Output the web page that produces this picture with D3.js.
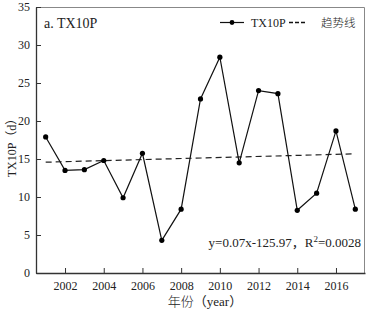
<!DOCTYPE html>
<html>

<head>
    <meta charset="utf-8" />
    <title>TX10P</title>
    <script type="text/javascript" src="https://cdn.jsdelivr.net/npm/d3@7"></script>
    <style>
        body { margin: 0; background: #fff; }
        svg text { font-family: "Liberation Serif", "DejaVu Serif", "Times New Roman", "Noto Sans CJK SC", serif; fill: #222; }
        svg text.cjk { font-family: "Noto Sans CJK SC", sans-serif; font-weight: 300; }
    </style>
</head>

<body>
    <script type="text/javascript">
        const years = [2001, 2002, 2003, 2004, 2005, 2006, 2007, 2008, 2009,
            2010, 2011, 2012, 2013, 2014, 2015, 2016, 2017];
        const tx10p = [17.9, 13.5, 13.6, 14.8, 9.9, 15.75, 4.3, 8.4, 22.9,
            28.4, 14.5, 24.0, 23.6, 8.25, 10.5, 18.7, 8.4];
        const trendYears = [2001, 2017];
        const trendValues = [14.58, 15.68];
        const xTicks = [2002, 2004, 2006, 2008, 2010, 2012, 2014, 2016];
        const yTicks = [0, 5, 10, 15, 20, 25, 30, 35];

        const width = 368,
            height = 311,
            margin = { top: 7, left: 36, right: 3, bottom: 38 };

        const svg = d3.select("body").append("svg")
            .attr("width", width)
            .attr("height", height);

        const x = d3.scaleLinear()
            .domain([2000.5, 2017.5])
            .range([margin.left, width - margin.right]);

        const y = d3.scaleLinear()
            .domain([0, 35])
            .range([height - margin.bottom, margin.top]);

        // frame: top and right in grey
        svg.append("path")
            .attr("d", `M${x.range()[0]},${y(35) + 0.5}H${x.range()[1] - 0.5}V${y(0)}`)
            .attr("fill", "none")
            .attr("stroke", "#888")
            .attr("stroke-width", 1);

        // axes with inward ticks
        const xAxis = d3.axisBottom(x)
            .tickValues(xTicks)
            .tickFormat(d3.format("d"))
            .tickSizeInner(-5)
            .tickSizeOuter(0)
            .tickPadding(8);

        const yAxis = d3.axisLeft(y)
            .tickValues(yTicks)
            .tickSizeInner(-5)
            .tickSizeOuter(0)
            .tickPadding(6);

        const gx = svg.append("g")
            .attr("transform", `translate(0, ${y(0)})`)
            .call(xAxis);
        const gy = svg.append("g")
            .attr("transform", `translate(${x.range()[0]}, 0)`)
            .call(yAxis);

        [gx, gy].forEach(g => {
            g.attr("font-family", null).attr("font-size", null);
            g.select(".domain").attr("stroke", "#333").attr("stroke-width", 1.3);
            g.selectAll(".tick line").attr("stroke", "#333");
            g.selectAll(".tick text")
                .style("font-size", "12px");
        });

        // trend line
        svg.append("line")
            .attr("x1", x(trendYears[0]))
            .attr("y1", y(trendValues[0]))
            .attr("x2", x(trendYears[1]))
            .attr("y2", y(trendValues[1]))
            .attr("stroke", "#222")
            .attr("stroke-width", 1.2)
            .attr("stroke-dasharray", "6,4");

        // data line
        const line = d3.line()
            .x((d, i) => x(years[i]))
            .y(d => y(d));

        svg.append("path")
            .datum(tx10p)
            .attr("d", line)
            .attr("fill", "none")
            .attr("stroke", "#111")
            .attr("stroke-width", 1.2);

        svg.selectAll("circle.pt")
            .data(tx10p)
            .enter()
            .append("circle")
            .attr("class", "pt")
            .attr("cx", (d, i) => x(years[i]))
            .attr("cy", d => y(d))
            .attr("r", 2.6)
            .attr("fill", "#000");

        // title
        svg.append("text")
            .attr("x", 44)
            .attr("y", 28)
            .style("font-size", "14px")
            .text("a. TX10P");

        // legend
        const lg = svg.append("g");
        lg.append("line")
            .attr("x1", 220).attr("x2", 244)
            .attr("y1", 22.5).attr("y2", 22.5)
            .attr("stroke", "#111").attr("stroke-width", 1.2);
        lg.append("circle")
            .attr("cx", 232).attr("cy", 22.5).attr("r", 2.4).attr("fill", "#000");
        lg.append("text")
            .attr("x", 251).attr("y", 27)
            .style("font-size", "12px")
            .text("TX10P");
        lg.append("line")
            .attr("x1", 289).attr("x2", 305)
            .attr("y1", 22.5).attr("y2", 22.5)
            .attr("stroke", "#111").attr("stroke-width", 1.3)
            .attr("stroke-dasharray", "4,2");
        lg.append("text")
            .attr("class", "cjk")
            .attr("x", 321).attr("y", 27)
            .style("font-size", "11.5px")
            .text("趋势线");

        // equation
        const eq = svg.append("text")
            .attr("x", 361)
            .attr("y", 247)
            .attr("text-anchor", "end")
            .style("font-size", "13px");
        eq.append("tspan").text("y=0.07x-125.97，R");
        eq.append("tspan").attr("dy", -5).style("font-size", "9px").text("2");
        eq.append("tspan").attr("dy", 5).text("=0.0028");

        // axis titles
        const xt = svg.append("text")
            .attr("x", 205)
            .attr("y", 306)
            .attr("text-anchor", "middle")
            .style("font-size", "13px");
        xt.append("tspan").attr("class", "cjk")
            .style("font-family", "Noto Sans CJK SC").style("font-weight", 300)
            .text("年份");
        xt.append("tspan").text("（year）");

        svg.append("text")
            .attr("transform", "translate(16, 145) rotate(-90)")
            .attr("text-anchor", "middle")
            .style("font-size", "12px")
            .text("TX10P（d）");
    </script>
</body>

</html>
